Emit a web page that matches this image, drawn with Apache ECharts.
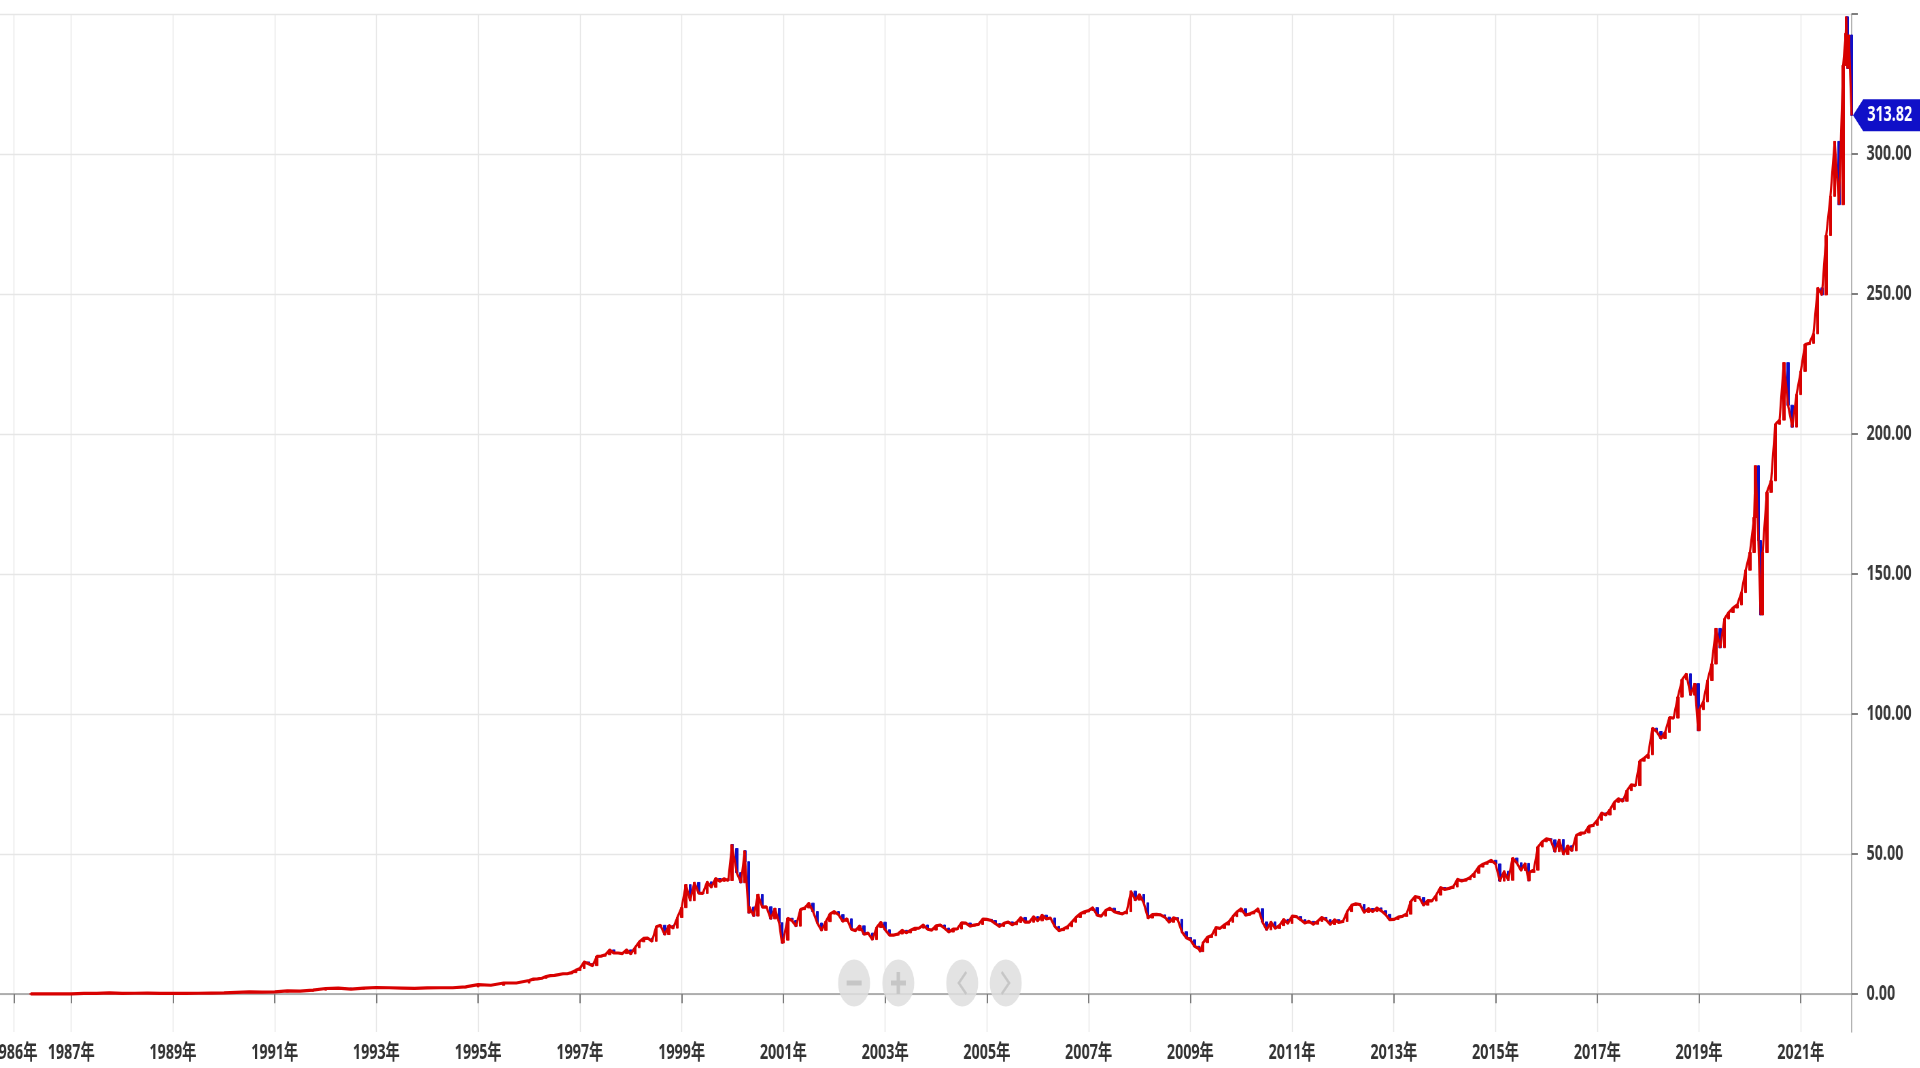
<!DOCTYPE html>
<html>
<head>
<meta charset="utf-8">
<title>株価チャート</title>
<script src="https://cdn.jsdelivr.net/npm/echarts@6/dist/echarts.min.js"></script>
<style>
  html, body { margin: 0; padding: 0; width: 1920px; height: 1068px; overflow: hidden; background: #fff; }
  /* the source screenshot is squeezed horizontally, so the chart is drawn wide and scaled down */
  #main { width: 2824px; height: 1068px; transform: scaleX(0.68); transform-origin: 0 0; }
</style>
</head>
<body>
<div id="main"></div>
<script>
// 'YYYY-MM' = month end, 'YYYY-MM-DD' = a single day (spikes)
const dates = [
  '1986-03-13', '1986-06', '1986-09', '1986-12',
  '1987-03', '1987-06', '1987-09', '1987-12',
  '1988-03', '1988-06', '1988-09', '1988-12',
  '1989-03', '1989-06', '1989-09', '1989-12',
  '1990-03', '1990-06', '1990-09', '1990-12',
  '1991-03', '1991-06', '1991-09', '1991-12',
  '1992-03', '1992-06', '1992-09', '1992-12',
  '1993-03', '1993-06', '1993-09', '1993-12',
  '1994-03', '1994-06', '1994-09', '1994-12',
  '1995-03', '1995-06', '1995-09', '1995-12',
  '1996-01', '1996-02', '1996-03', '1996-04', '1996-05', '1996-06', '1996-07', '1996-08', '1996-09', '1996-10', '1996-11', '1996-12',
  '1997-01', '1997-02', '1997-03', '1997-04', '1997-05', '1997-06', '1997-07', '1997-08', '1997-09', '1997-10', '1997-11', '1997-12',
  '1998-01', '1998-02', '1998-03', '1998-04', '1998-05', '1998-06', '1998-07', '1998-08', '1998-09', '1998-10', '1998-11', '1998-12',
  '1999-01', '1999-02', '1999-03', '1999-04', '1999-05', '1999-06', '1999-07', '1999-08', '1999-09', '1999-10', '1999-11', '1999-12-27', '1999-12',
  '2000-01', '2000-02', '2000-03-27', '2000-03', '2000-04-24', '2000-04', '2000-05', '2000-06', '2000-07', '2000-08', '2000-09', '2000-10', '2000-11', '2000-12-20', '2000-12',
  '2001-01', '2001-02', '2001-03', '2001-04', '2001-05', '2001-06', '2001-07', '2001-08', '2001-09', '2001-10', '2001-11', '2001-12',
  '2002-01', '2002-02', '2002-03', '2002-04', '2002-05', '2002-06', '2002-07', '2002-08', '2002-09', '2002-10', '2002-11', '2002-12',
  '2003-01', '2003-02', '2003-03', '2003-04', '2003-05', '2003-06', '2003-07', '2003-08', '2003-09', '2003-10', '2003-11', '2003-12',
  '2004-01', '2004-02', '2004-03', '2004-04', '2004-05', '2004-06', '2004-07', '2004-08', '2004-09', '2004-10', '2004-11', '2004-12',
  '2005-01', '2005-02', '2005-03', '2005-04', '2005-05', '2005-06', '2005-07', '2005-08', '2005-09', '2005-10', '2005-11', '2005-12',
  '2006-01', '2006-02', '2006-03', '2006-04', '2006-05', '2006-06', '2006-07', '2006-08', '2006-09', '2006-10', '2006-11', '2006-12',
  '2007-01', '2007-02', '2007-03', '2007-04', '2007-05', '2007-06', '2007-07', '2007-08', '2007-09', '2007-10', '2007-11', '2007-12',
  '2008-01', '2008-02', '2008-03', '2008-04', '2008-05', '2008-06', '2008-07', '2008-08', '2008-09', '2008-10', '2008-11', '2008-12',
  '2009-01', '2009-02', '2009-03-09', '2009-03', '2009-04', '2009-05', '2009-06', '2009-07', '2009-08', '2009-09', '2009-10', '2009-11', '2009-12',
  '2010-01', '2010-02', '2010-03', '2010-04', '2010-05', '2010-06', '2010-07', '2010-08', '2010-09', '2010-10', '2010-11', '2010-12',
  '2011-01', '2011-02', '2011-03', '2011-04', '2011-05', '2011-06', '2011-07', '2011-08', '2011-09', '2011-10', '2011-11', '2011-12',
  '2012-01', '2012-02', '2012-03', '2012-04', '2012-05', '2012-06', '2012-07', '2012-08', '2012-09', '2012-10', '2012-11', '2012-12',
  '2013-01', '2013-02', '2013-03', '2013-04', '2013-05', '2013-06', '2013-07', '2013-08', '2013-09', '2013-10', '2013-11', '2013-12',
  '2014-01', '2014-02', '2014-03', '2014-04', '2014-05', '2014-06', '2014-07', '2014-08', '2014-09', '2014-10', '2014-11', '2014-12',
  '2015-01', '2015-02', '2015-03', '2015-04', '2015-05', '2015-06', '2015-07', '2015-08-24', '2015-08', '2015-09', '2015-10', '2015-11', '2015-12',
  '2016-01', '2016-02', '2016-03', '2016-04', '2016-05', '2016-06', '2016-07', '2016-08', '2016-09', '2016-10', '2016-11', '2016-12',
  '2017-01', '2017-02', '2017-03', '2017-04', '2017-05', '2017-06', '2017-07', '2017-08', '2017-09', '2017-10', '2017-11', '2017-12',
  '2018-01', '2018-02', '2018-03', '2018-04', '2018-05', '2018-06', '2018-07', '2018-08', '2018-09', '2018-10', '2018-11', '2018-12-24', '2018-12',
  '2019-01', '2019-02', '2019-03', '2019-04', '2019-05', '2019-06', '2019-07', '2019-08', '2019-09', '2019-10', '2019-11', '2019-12',
  '2020-01', '2020-02-10', '2020-02', '2020-03-16', '2020-03', '2020-04', '2020-05', '2020-06', '2020-07', '2020-08', '2020-09', '2020-10', '2020-11', '2020-12',
  '2021-01', '2021-02', '2021-03', '2021-04', '2021-05', '2021-06', '2021-07', '2021-08', '2021-09', '2021-10', '2021-11-19', '2021-11-22', '2021-11', '2021-12-10', '2021-12'
];

const closes = [
  0.09, 0.10, 0.09, 0.12,
  0.28, 0.31, 0.44, 0.31,
  0.34, 0.35, 0.30, 0.28,
  0.30, 0.34, 0.40, 0.45,
  0.62, 0.80, 0.75, 0.84,
  1.20, 1.10, 1.45, 2.03,
  2.15, 1.80, 2.20, 2.39,
  2.30, 2.20, 2.10, 2.24,
  2.30, 2.30, 2.60, 3.40,
  3.20, 4.00, 4.00, 4.88,
  5.4, 5.5, 5.7, 6.3, 6.6, 6.7, 7.0, 7.3, 7.3, 7.7, 8.5, 9.2,
  11.5, 10.9, 10.2, 13.5, 13.6, 14.1, 15.8, 14.7, 14.7, 14.5, 15.8, 14.4,
  16.6, 18.7, 19.9, 20.0, 18.9, 24.1, 24.6, 21.3, 24.5, 23.6, 27.4, 30.9,
  39.1, 33.4, 39.9, 36.1, 36.0, 40.1, 38.2, 41.3, 40.3, 41.2, 40.6, 53.4, 52.0,
  43.4, 39.8, 51.2, 47.3, 29.0, 31.1, 27.9, 35.6, 31.1, 31.2, 26.9, 30.6, 25.5, 18.3, 19.3,
  27.1, 26.3, 24.3, 30.2, 30.8, 32.5, 29.5, 25.4, 22.8, 25.9, 28.6, 29.5,
  28.4, 26.0, 26.9, 23.2, 22.7, 24.4, 21.4, 21.8, 19.5, 23.8, 25.7, 23.0,
  21.1, 21.1, 21.5, 22.8, 21.9, 22.8, 23.5, 23.6, 24.7, 23.2, 22.9, 24.4,
  24.7, 23.6, 22.2, 23.2, 23.3, 25.5, 25.4, 24.3, 24.7, 24.9, 26.8, 26.7,
  26.3, 25.2, 24.2, 25.3, 25.8, 24.8, 25.6, 27.4, 25.7, 25.7, 27.7, 26.2,
  28.2, 26.9, 27.2, 24.2, 22.7, 23.3, 24.1, 25.7, 27.4, 28.7, 29.4, 29.9,
  30.9, 28.2, 27.9, 29.9, 30.7, 29.5, 29.0, 28.7, 29.5, 36.8, 33.6, 35.6,
  32.6, 27.2, 28.4, 28.5, 28.3, 27.5, 25.7, 27.3, 26.7, 22.3, 20.2, 19.4,
  17.1, 16.2, 15.2, 18.4, 20.3, 20.9, 23.8, 23.5, 24.7, 25.7, 27.7, 29.4, 30.5,
  28.2, 28.7, 29.3, 30.5, 25.8, 23.0, 25.8, 23.5, 24.5, 26.7, 25.3, 27.9,
  27.7, 26.6, 25.4, 26.0, 25.0, 26.0, 27.4, 26.6, 24.9, 26.6, 25.6, 26.0,
  29.5, 31.7, 32.3, 32.0, 29.2, 30.6, 29.5, 30.8, 29.8, 28.5, 26.6, 26.7,
  27.5, 27.8, 28.6, 33.1, 34.9, 34.5, 31.8, 33.4, 33.3, 35.4, 38.1, 37.4,
  37.8, 38.3, 41.0, 40.4, 40.9, 41.7, 43.2, 45.4, 46.4, 47.0, 47.8, 46.5,
  40.4, 43.9, 40.7, 48.6, 46.9, 44.2, 46.7, 40.5, 43.5, 44.3, 52.6, 54.4, 55.5,
  55.1, 50.9, 55.2, 49.9, 53.0, 51.2, 56.7, 57.5, 57.6, 59.9, 60.3, 62.1,
  64.7, 64.0, 65.9, 68.5, 69.8, 68.9, 72.7, 74.8, 74.5, 83.2, 84.2, 85.5,
  95.0, 93.8, 91.3, 93.5, 98.8, 98.6, 106.1, 112.3, 114.4, 106.8, 110.9, 94.1, 101.6,
  104.4, 112.0, 117.9, 130.6, 123.7, 134.0, 136.3, 137.9, 139.0, 143.4, 151.4, 157.7,
  170.2, 188.7, 162.0, 135.4, 157.7, 179.2, 183.3, 203.5, 205.0, 225.5, 210.3, 202.5, 214.1, 222.4,
  232.0, 232.4, 235.8, 252.2, 249.7, 270.9, 284.9, 304.5, 281.9, 331.6, 343.1, 349.0, 330.6, 342.5, 313.82
];

const yearTicks = [1986, 1987, 1989, 1991, 1993, 1995, 1997, 1999, 2001, 2003, 2005, 2007, 2009, 2011, 2013, 2015, 2017, 2019, 2021];
const priceTicks = [0, 50, 100, 150, 200, 250, 300, 350];
const priceLabels = [0, 50, 100, 150, 200, 250, 300];

const FONT = "'Noto Sans', 'Noto Sans CJK JP', sans-serif";
const RED = '#d80000';
const BLUE = '#1010c8';

// date string -> decimal year
function toYear(s) {
  const p = s.split('-').map(Number);
  if (p.length === 2) return p[0] + p[1] / 12;
  return p[0] + (p[1] - 1) / 12 + p[2] / 365;
}

const xs = dates.map(toYear);
const linePoints = xs.map((x, i) => [x, closes[i]]);
// bar from previous close to this close: red when up, blue when down
const bars = xs.map((x, i) => {
  const o = i > 0 ? closes[i - 1] : closes[i];
  const c = closes[i];
  return [x, o, c, Math.min(o, c), Math.max(o, c)];
});
const lastX = xs[xs.length - 1];
const lastClose = closes[closes.length - 1];
// the first year label sits a little before the start of 1986
const xTickValues = yearTicks.map((y, i) => i === 0 ? y - 0.125 : y);

const chart = echarts.init(document.getElementById('main'));

chart.setOption({
  animation: false,
  backgroundColor: '#fff',
  grid: { left: 0, right: 101, top: 14, bottom: 36, outerBoundsMode: 'none' },
  xAxis: {
    type: 'value',
    min: 1985.6,
    max: 2022.0,
    axisLine: { show: true, lineStyle: { color: '#9a9a9a', width: 1.5 } },
    axisTick: { show: true, length: 9, customValues: xTickValues, lineStyle: { color: '#555', width: 1.5 } },
    axisLabel: {
      customValues: xTickValues,
      margin: 11,
      color: '#333',
      fontSize: 21,
      fontWeight: 'bold',
      fontFamily: FONT,
      formatter: v => Math.round(v) + '年'
    },
    splitLine: { show: true, lineStyle: { color: '#e6e6e6', width: 1.4 } }
  },
  yAxis: {
    type: 'value',
    position: 'right',
    min: -13.5,
    max: 350,
    axisLine: { show: true, lineStyle: { color: '#9a9a9a', width: 1.5 } },
    axisTick: { show: true, length: 9, customValues: priceTicks, lineStyle: { color: '#555', width: 1.5 } },
    axisLabel: {
      customValues: priceLabels,
      margin: 22,
      color: '#3a3a3a',
      fontSize: 21,
      fontWeight: 'bold',
      fontFamily: FONT,
      formatter: v => v.toFixed(2)
    },
    splitLine: { show: true, lineStyle: { color: '#e6e6e6', width: 1.4 } }
  },
  series: [
    {
      type: 'candlestick',
      data: bars,
      encode: { x: 0, y: [1, 2, 3, 4] },
      barWidth: 4,
      z: 2,
      itemStyle: { color: RED, color0: BLUE, borderColor: RED, borderColor0: BLUE, borderWidth: 1 }
    },
    {
      type: 'line',
      data: linePoints,
      showSymbol: false,
      z: 3,
      lineStyle: { color: RED, width: 3.2 },
      markPoint: {
        silent: true,
        symbol: 'path://M0,16 L15,0 L100,0 L100,32 L15,32 Z',
        symbolSize: [100, 32],
        symbolOffset: ['52%', 0],
        symbolKeepAspect: false,
        itemStyle: { color: BLUE },
        label: {
          show: true,
          position: 'inside',
          offset: [4, 0],
          color: '#fff',
          fontSize: 21,
          fontWeight: 'bold',
          fontFamily: FONT,
          formatter: lastClose.toFixed(2)
        },
        data: [{ coord: [lastX, lastClose] }]
      }
    }
  ],
  // zoom / pan buttons over the bottom of the plot
  graphic: [
    { type: 'circle', shape: { cx: 1256, cy: 983, r: 23.5 }, style: { fill: 'rgba(222,222,222,0.85)' }, z: 100 },
    { type: 'circle', shape: { cx: 1321, cy: 983, r: 23.5 }, style: { fill: 'rgba(222,222,222,0.85)' }, z: 100 },
    { type: 'circle', shape: { cx: 1415, cy: 983, r: 23.5 }, style: { fill: 'rgba(222,222,222,0.85)' }, z: 100 },
    { type: 'circle', shape: { cx: 1479, cy: 983, r: 23.5 }, style: { fill: 'rgba(222,222,222,0.85)' }, z: 100 },
    { type: 'rect', shape: { x: 1245, y: 980.5, width: 22, height: 5 }, style: { fill: '#c6c6c6' }, z: 101 },
    { type: 'rect', shape: { x: 1310, y: 980.5, width: 22, height: 5 }, style: { fill: '#c6c6c6' }, z: 101 },
    { type: 'rect', shape: { x: 1318.5, y: 972, width: 5, height: 22 }, style: { fill: '#c6c6c6' }, z: 101 },
    { type: 'polyline', shape: { points: [[1421, 972], [1410, 983], [1421, 994]] }, style: { stroke: '#c6c6c6', lineWidth: 3, fill: null }, z: 101 },
    { type: 'polyline', shape: { points: [[1473, 972], [1484, 983], [1473, 994]] }, style: { stroke: '#c6c6c6', lineWidth: 3, fill: null }, z: 101 }
  ]
});
</script>
</body>
</html>
